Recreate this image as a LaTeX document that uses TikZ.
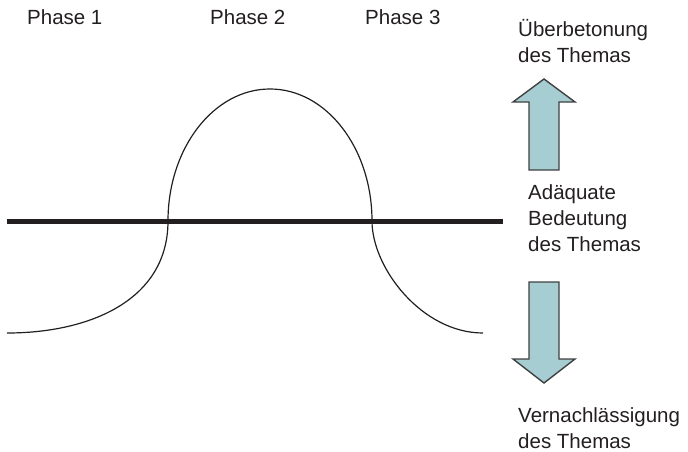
\documentclass[tikz,border=0pt]{standalone}
\usepackage{fontspec}
\setmainfont{Liberation Sans}
\definecolor{ink}{HTML}{231F20}
\definecolor{arrowfill}{HTML}{A5CDD2}
\definecolor{arrowline}{HTML}{404040}
\begin{document}
\begin{tikzpicture}[x=1pt,y=-1pt,
  lbl/.style={anchor=base west,inner sep=0pt,align=left,text=ink,
    font=\fontsize{20.5}{26}\selectfont},
  bigarrow/.style={fill=arrowfill,draw=arrowline,line width=1.4pt,line join=miter},
  axisline/.style={draw=ink,line width=5pt},
  curveline/.style={draw=ink,line width=1.2pt}]
\useasboundingbox (0,0) rectangle (688,452);
% labels (anchor at baseline of the last line)
\node[lbl] (p1) at (27,25) {Phase 1};
\node[lbl] (p2) at (210,25) {Phase 2};
\node[lbl] (p3) at (365,25) {Phase 3};
\node[lbl] (top) at (518,63) {Überbetonung\\des Themas};
\node[lbl] (mid) at (528,251) {Adäquate\\Bedeutung\\des Themas};
\node[lbl] (bot) at (518,448) {Vernachlässigung\\des Themas};
% horizontal line
\coordinate (l0) at (7,221);
\coordinate (l1) at (503,221);
\draw[axisline] (l0) -- (l1);
% curve
\coordinate (c0) at (7,333);
\coordinate (c1) at (168,221);
\coordinate (c2) at (270,89);
\coordinate (c3) at (372,221);
\coordinate (c4) at (483,333);
\draw[curveline] (c0) .. controls (90,333) and (168,300) .. (c1)
  .. controls (168,148.1) and (213.7,89) .. (c2)
  .. controls (326.3,89) and (372,148.1) .. (c3)
  .. controls (372,268) and (422,333) .. (c4);
% arrows
\draw[bigarrow] (544,79) -- (575,102) -- (559,102) -- (559,170) -- (529,170)
  -- (529,102) -- (513,102) -- cycle;
\draw[bigarrow] (529,282) -- (559,282) -- (559,359) -- (575,359) -- (544,383)
  -- (513,359) -- (529,359) -- cycle;
\end{tikzpicture}
\end{document}
